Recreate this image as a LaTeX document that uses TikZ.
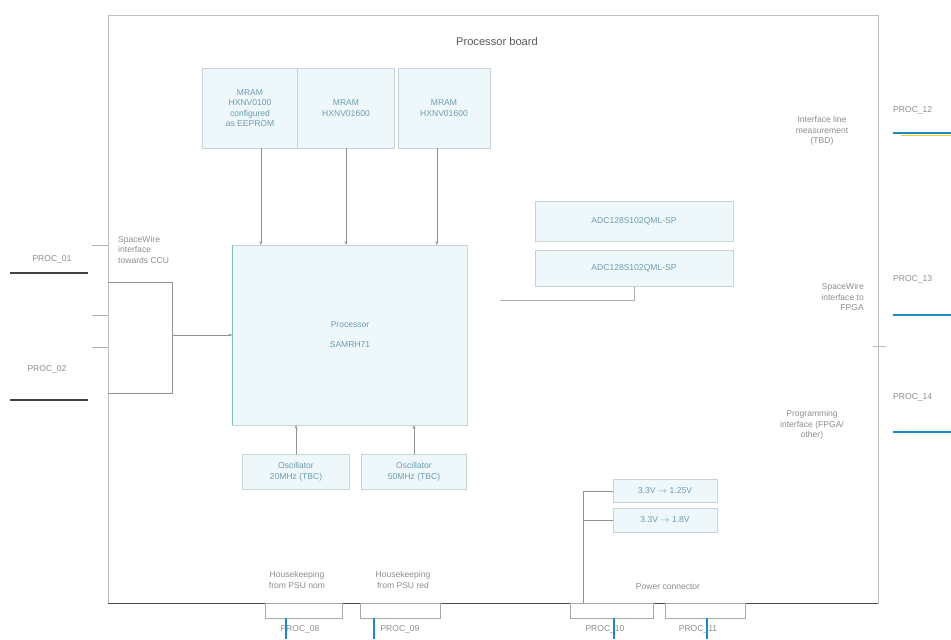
\documentclass[tikz,border=0pt]{standalone}
\usepackage{fontspec}
\setmainfont{Liberation Sans}
\usetikzlibrary{arrows.meta,calc}
\definecolor{boxfill}{HTML}{EEF7F9}
\definecolor{boxline}{HTML}{C9D3D6}
\definecolor{boxtext}{HTML}{6C9DB3}
\definecolor{lbltext}{HTML}{8A8F92}
\definecolor{linegray}{HTML}{8E9396}
\definecolor{blueline}{HTML}{1E88C8}
\begin{document}
\begin{tikzpicture}[x=0.3mm,y=-0.3mm,
  box/.style={draw=boxline, fill=boxfill, text=boxtext, align=center, inner sep=1pt,
    font=\fontsize{7.3}{9}\selectfont},
  lbl/.style={text=lbltext, align=center, inner sep=0pt, font=\fontsize{7.3}{9}\selectfont},
  conn/.style={draw=linegray, line width=0.4pt},
  arr/.style={conn, -{Stealth[length=3pt,width=2.5pt]}},
  cbox/.style={draw=linegray!80, line width=0.4pt, minimum height=15*0.3mm, inner sep=0pt},
  extline/.style={line width=1.4pt, draw=black!75},
  blue/.style={line width=1.4pt, draw=blueline}]
\useasboundingbox (0,0) rectangle (951,639);
\fill[white] (0,0) rectangle (951,639);
% board
\node[draw=black!25, line width=0.4pt, minimum width=770*0.3mm, minimum height=588*0.3mm, inner sep=0pt] (board) at (493,309) {};
\draw[draw=black!70, line width=0.6pt] (board.south west) -- (board.south east);
\node[text=black!65, font=\fontsize{9.5}{11}\selectfont] (title) at (497,42) {Processor board};
% MRAM
\node[box, minimum width=95*0.3mm, minimum height=80*0.3mm] (m1) at (250,108) {MRAM\\HXNV0100\\configured\\as EEPROM};
\node[box, minimum width=97*0.3mm, minimum height=80*0.3mm] (m2) at (346,108) {MRAM\\HXNV01600};
\node[box, minimum width=92*0.3mm, minimum height=80*0.3mm] (m3) at (444,108) {MRAM\\HXNV01600};
% processor
\node[box, minimum width=235*0.3mm, minimum height=180*0.3mm, align=center] (proc) at (350,335) {Processor\\[8pt]SAMRH71};
\draw[draw=teal!50, line width=0.6pt] (proc.south west) -- (proc.north west);
\coordinate (a1) at (261,148);
\coordinate (a3) at (437,148);
\draw[arr] (a1) -- (a1 |- proc.north);
\draw[arr] (m2.south) -- (m2.south |- proc.north);
\draw[arr] (a3) -- (a3 |- proc.north);
% ADC
\node[box, minimum width=198*0.3mm, minimum height=40*0.3mm] (adc1) at (634,221) {ADC128S102QML-SP};
\node[box, minimum width=198*0.3mm, minimum height=36*0.3mm] (adc2) at (634,268) {ADC128S102QML-SP};
\coordinate (adcend) at (500,300);
\draw[conn, draw=linegray!70] (adc2.south) |- (adcend);
% oscillators
\node[box, minimum width=107*0.3mm, minimum height=35*0.3mm] (osc1) at (296,472) {Oscillator\\20MHz (TBC)};
\node[box, minimum width=105*0.3mm, minimum height=35*0.3mm] (osc2) at (414,472) {Oscillator\\50MHz (TBC)};
\draw[arr] (osc1.north) -- (osc1.north |- proc.south);
\draw[arr] (osc2.north) -- (osc2.north |- proc.south);
% left side
\node[lbl, anchor=north west, align=left] (swccu) at (118,236) {SpaceWire\\interface\\towards CCU};
\coordinate (br1) at (108,282);
\coordinate (br2) at (172,282);
\coordinate (br3) at (172,393);
\coordinate (br4) at (108,393);
\draw[conn] (br1) -- (br2) -- (br3) -- (br4);
\coordinate (brmid) at (172,335);
\draw[arr] (brmid) -- (proc.west);
\coordinate (t1a) at (92,245); \coordinate (t1b) at (108,245);
\coordinate (t2a) at (92,315); \coordinate (t2b) at (108,315);
\coordinate (t3a) at (92,347); \coordinate (t3b) at (108,347);
\draw[conn, draw=linegray!70] (t1a) -- (t1b);
\draw[conn, draw=linegray!70] (t2a) -- (t2b);
\draw[conn, draw=linegray!70] (t3a) -- (t3b);
\node[lbl] (p01) at (52,259) {PROC\_01};
\node[lbl] (p02) at (47,369) {PROC\_02};
\coordinate (l1a) at (10,273); \coordinate (l1b) at (88,273);
\coordinate (l2a) at (10,400); \coordinate (l2b) at (88,400);
\draw[extline] (l1a) -- (l1b);
\draw[extline] (l2a) -- (l2b);
% bottom connectors
\node[lbl] (hk1) at (297,580) {Housekeeping\\from PSU nom};
\node[lbl] (hk2) at (403,580) {Housekeeping\\from PSU red};
\node[lbl] (pwc) at (668,587) {Power connector};
\node[cbox, minimum width=77*0.3mm] (cb1) at (303.5,610.5) {};
\node[cbox, minimum width=80*0.3mm] (cb2) at (400,610.5) {};
\node[cbox, minimum width=83*0.3mm] (cb3) at (611.5,610.5) {};
\node[cbox, minimum width=80*0.3mm] (cb4) at (705,610.5) {};
\node[lbl] (p08) at (300,629) {PROC\_08};
\node[lbl] (p09) at (400,629) {PROC\_09};
\node[lbl] (p10) at (605,629) {PROC\_10};
\node[lbl] (p11) at (698,629) {PROC\_11};
\coordinate (bb1) at (286,639); \coordinate (bb2) at (374,639);
\coordinate (bb3) at (614,639); \coordinate (bb4) at (707,639);
\draw[blue] (cb1.south -| bb1) -- (bb1);
\draw[blue] (cb2.south -| bb2) -- (bb2);
\draw[blue] (cb3.south -| bb3) -- (bb3);
\draw[blue] (cb4.south -| bb4) -- (bb4);
% voltage regulators
\node[box, minimum width=104*0.3mm, minimum height=23*0.3mm] (v1) at (665,491) {3.3V $\rightarrow$ 1.25V};
\node[box, minimum width=104*0.3mm, minimum height=24*0.3mm] (v2) at (665,520) {3.3V $\rightarrow$ 1.8V};
\coordinate (vb) at (583,603);
\draw[conn] (vb) |- (v1.west);
\draw[conn] (vb |- v2.west) -- (v2.west);
% right side
\node[lbl] (r1) at (822,131) {Interface line\\measurement\\(TBD)};
\node[lbl, align=right, anchor=east] (r2) at (864,297) {SpaceWire\\interface to\\FPGA};
\node[lbl] (r3) at (812,425) {Programming\\interface (FPGA/\\other)};
\coordinate (rt1) at (873,346); \coordinate (rt2) at (886,346);
\draw[conn, draw=linegray!60] (rt1) -- (rt2);
\node[lbl, anchor=west] (p12) at (893,110) {PROC\_12};
\node[lbl, anchor=west] (p13) at (893,279) {PROC\_13};
\node[lbl, anchor=west] (p14) at (893,397) {PROC\_14};
\coordinate (e1a) at (893,133); \coordinate (e1b) at (951,133);
\coordinate (e2a) at (893,315); \coordinate (e2b) at (951,315);
\coordinate (e3a) at (893,432); \coordinate (e3b) at (951,432);
\draw[line width=0.8pt, draw=yellow!70!orange] ($(e1a)+(8,2)$) -- ($(e1b)+(0,2)$);
\draw[blue] (e1a) -- (e1b);
\draw[blue] (e2a) -- (e2b);
\draw[blue] (e3a) -- (e3b);
\end{tikzpicture}
\end{document}
